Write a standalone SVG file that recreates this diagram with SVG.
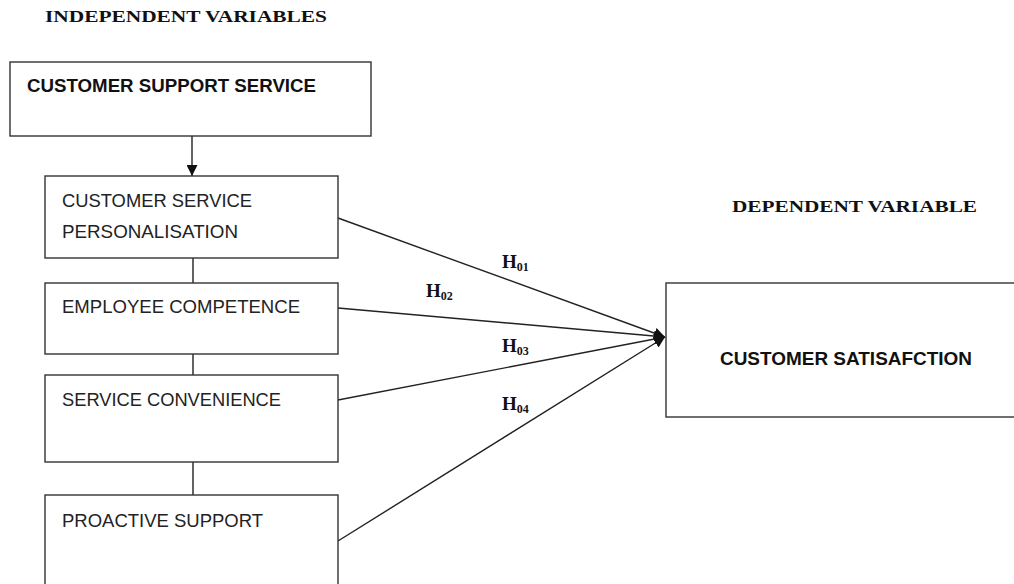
<svg xmlns="http://www.w3.org/2000/svg" width="1014" height="584" viewBox="0 0 1014 584">
<defs>
<style>
.box{fill:#fff;stroke:#333;stroke-width:1.4}
.lbl{font-family:"Liberation Sans",Arial,sans-serif;font-size:18px;fill:#222}
.bold{font-weight:bold;fill:#111}
.serif{font-family:"Liberation Serif","Times New Roman",serif;font-weight:bold;fill:#111}
.conn{stroke:#222;stroke-width:1.4;fill:none}
</style>
<marker id="arr" viewBox="0 0 10 10" refX="10" refY="5" markerWidth="11" markerHeight="11" markerUnits="userSpaceOnUse" orient="auto">
<path d="M0,0 L10,5 L0,10 z" fill="#111"/>
</marker>
</defs>
<rect width="1014" height="584" fill="#fff"/>
<text class="serif" x="45" y="22" font-size="17" textLength="282" lengthAdjust="spacingAndGlyphs">INDEPENDENT VARIABLES</text>
<text class="serif" x="732" y="212" font-size="17" textLength="245" lengthAdjust="spacingAndGlyphs">DEPENDENT VARIABLE</text>
<g id="connectors">
<line class="conn" x1="192" y1="136" x2="192" y2="176" marker-end="url(#arr)"/>
<line class="conn" x1="193" y1="258" x2="193" y2="283"/>
<line class="conn" x1="193" y1="354" x2="193" y2="375"/>
<line class="conn" x1="193" y1="462" x2="193" y2="495"/>
<line class="conn" x1="338" y1="218" x2="665" y2="337" marker-end="url(#arr)"/>
<line class="conn" x1="338" y1="308" x2="665" y2="337" marker-end="url(#arr)"/>
<line class="conn" x1="338" y1="400" x2="665" y2="337" marker-end="url(#arr)"/>
<line class="conn" x1="338" y1="541" x2="665" y2="337" marker-end="url(#arr)"/>
<text class="serif" x="502" y="268" font-size="19">H<tspan font-size="12" dy="3">01</tspan></text>
<text class="serif" x="426" y="297" font-size="19">H<tspan font-size="12" dy="3">02</tspan></text>
<text class="serif" x="502" y="352" font-size="19">H<tspan font-size="12" dy="3">03</tspan></text>
<text class="serif" x="502" y="410" font-size="19">H<tspan font-size="12" dy="3">04</tspan></text>
</g>
<g id="customer-support-service">
<rect class="box" x="10" y="62" width="361" height="74"/>
<text class="lbl bold" x="27" y="92" textLength="289" lengthAdjust="spacingAndGlyphs">CUSTOMER SUPPORT SERVICE</text>
</g>
<g id="personalisation">
<rect class="box" x="45" y="176" width="293" height="82"/>
<text class="lbl" x="62" y="207" textLength="190" lengthAdjust="spacingAndGlyphs">CUSTOMER SERVICE</text>
<text class="lbl" x="62" y="238" textLength="176" lengthAdjust="spacingAndGlyphs">PERSONALISATION</text>
</g>
<g id="employee-competence">
<rect class="box" x="45" y="283" width="293" height="71"/>
<text class="lbl" x="62" y="313" textLength="238" lengthAdjust="spacingAndGlyphs">EMPLOYEE COMPETENCE</text>
</g>
<g id="service-convenience">
<rect class="box" x="45" y="375" width="293" height="87"/>
<text class="lbl" x="62" y="406" textLength="219" lengthAdjust="spacingAndGlyphs">SERVICE CONVENIENCE</text>
</g>
<g id="proactive-support">
<rect class="box" x="45" y="495" width="293" height="100"/>
<text class="lbl" x="62" y="527" textLength="201" lengthAdjust="spacingAndGlyphs">PROACTIVE SUPPORT</text>
</g>
<g id="customer-satisfaction">
<rect class="box" x="666" y="283" width="360" height="134"/>
<text class="lbl bold" x="720" y="365" font-size="18" textLength="252" lengthAdjust="spacingAndGlyphs">CUSTOMER SATISAFCTION</text>
</g>
</svg>
